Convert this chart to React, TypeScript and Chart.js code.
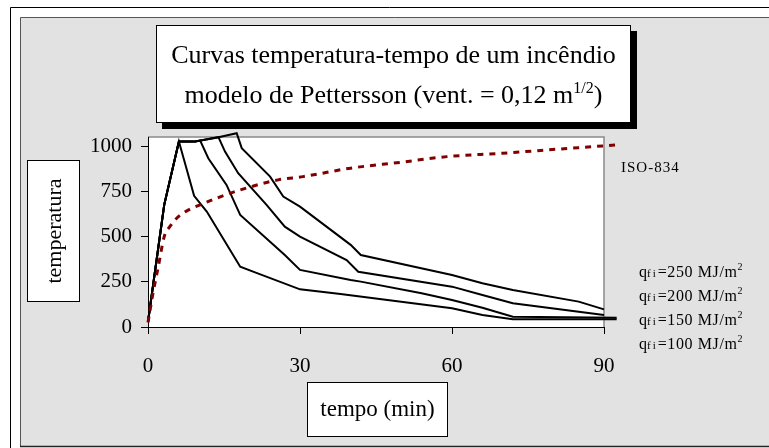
import React, { useEffect, useRef } from 'react';
import { Chart, registerables } from 'chart.js';

Chart.register(...registerables);

// ---- data ----
const xTicks = [0, 30, 60, 90];
const yTicks = [0, 250, 500, 750, 1000];

const isoTime = [0, 1, 2, 3.2, 4.3, 6, 8, 10.3, 14, 18.2, 25.7, 30.6, 40, 50, 59, 70, 80.7, 92.6];
const isoTemp = [25, 190, 330, 502, 557, 613, 650, 678, 720, 761, 817, 835, 882, 915, 946, 965, 987, 1011];

const q100Time = [0, 3.2, 6.1, 9.1, 11.6, 18.2, 21, 30, 38, 60, 66, 72, 92.5];
const q100Temp = [28, 678, 1030, 728, 641, 335, 305, 209, 183, 104, 67, 43, 43];

const q150Time = [0, 3.2, 6.1, 9.3, 10.3, 11.9, 15.5, 18.2, 27, 30, 40, 42, 54, 60, 66, 72, 92.5];
const q150Temp = [28, 678, 1030, 1030, 1035, 937, 789, 622, 400, 317, 261, 252, 187, 150, 107, 57, 52];

const q200Time = [0, 3.2, 6.1, 9.3, 13.9, 15.2, 17.8, 23.4, 27, 30, 39.2, 41.5, 60, 66, 72, 90, 92.5];
const q200Temp = [28, 678, 1030, 1030, 1054, 974, 854, 678, 557, 502, 372, 307, 224, 178, 132, 67, 67];

const q250Time = [0, 3.2, 6.1, 9.3, 13.9, 17.5, 18.5, 24.1, 26.7, 30, 40, 42, 60, 66, 72, 85, 90, 92.5];
const q250Temp = [28, 678, 1030, 1030, 1054, 1076, 993, 835, 724, 668, 456, 400, 289, 243, 206, 141, 98, 98];

const titleLine1 = 'Curvas temperatura-tempo de um incêndio';
const titleLine2 = 'modelo de Pettersson (vent. = 0,12 m';
const titleSup = '1/2';
const yTitle = 'temperatura';
const xTitle = 'tempo (min)';
const isoLabel = 'ISO-834';
const loadLabels = ['250', '200', '150', '100'];

const SERIF = "'Liberation Serif', 'Times New Roman', serif";

const zip = (t: number[], v: number[]) => t.map((x, i) => ({ x, y: v[i] }));

type Seg = { text: string; size: number; dy?: number; spacing?: number };

function drawRich(ctx: CanvasRenderingContext2D, x: number, y: number, segs: Seg[]) {
  let cx = x;
  for (const s of segs) {
    ctx.font = `${s.size}px ${SERIF}`;
    (ctx as any).letterSpacing = `${s.spacing ?? 0}px`;
    ctx.fillText(s.text, cx, y + (s.dy ?? 0));
    cx += ctx.measureText(s.text).width;
  }
  (ctx as any).letterSpacing = '0px';
}

function measureRich(ctx: CanvasRenderingContext2D, segs: Seg[]) {
  let w = 0;
  for (const s of segs) {
    ctx.font = `${s.size}px ${SERIF}`;
    (ctx as any).letterSpacing = `${s.spacing ?? 0}px`;
    w += ctx.measureText(s.text).width;
  }
  (ctx as any).letterSpacing = '0px';
  return w;
}

const decorPlugin = {
  id: 'decor',
  beforeDraw(chart: any) {
    const ctx: CanvasRenderingContext2D = chart.ctx;
    const W = chart.width;
    const H = chart.height;
    const ca = chart.chartArea;
    ctx.save();
    ctx.fillStyle = '#ffffff';
    ctx.fillRect(0, 0, W, H);
    // outer frame
    ctx.strokeStyle = '#000';
    ctx.lineWidth = 1;
    ctx.beginPath();
    ctx.moveTo(10.5, H);
    ctx.lineTo(10.5, 7.5);
    ctx.lineTo(W, 7.5);
    ctx.stroke();
    // gray panel
    ctx.fillStyle = '#e2e2e2';
    ctx.fillRect(20, 17, W - 20, 430);
    ctx.strokeStyle = '#555';
    ctx.beginPath();
    ctx.moveTo(20.5, 447);
    ctx.lineTo(20.5, 17.5);
    ctx.lineTo(W, 17.5);
    ctx.stroke();
    ctx.strokeStyle = '#222';
    ctx.lineWidth = 1.5;
    ctx.beginPath();
    ctx.moveTo(20, 446.5);
    ctx.lineTo(W, 446.5);
    ctx.stroke();
    // plot area
    ctx.fillStyle = '#ffffff';
    ctx.fillRect(ca.left, ca.top, ca.right - ca.left, ca.bottom - ca.top);
    ctx.strokeStyle = '#8a8a8a';
    ctx.lineWidth = 1.5;
    ctx.beginPath();
    ctx.moveTo(ca.left, ca.top);
    ctx.lineTo(ca.right, ca.top);
    ctx.lineTo(ca.right, ca.bottom);
    ctx.stroke();

    // title box with shadow
    ctx.fillStyle = '#000';
    ctx.fillRect(162, 31, 475, 98);
    ctx.fillStyle = '#fff';
    ctx.fillRect(156, 25, 475, 98);
    ctx.strokeStyle = '#000';
    ctx.lineWidth = 1;
    ctx.strokeRect(156.5, 25.5, 474, 97);
    ctx.fillStyle = '#000';
    ctx.textBaseline = 'alphabetic';
    ctx.textAlign = 'left';
    const tcx = 393.5;
    const seg1: Seg[] = [{ text: titleLine1, size: 26 }];
    drawRich(ctx, tcx - measureRich(ctx, seg1) / 2, 63, seg1);
    const seg2: Seg[] = [
      { text: titleLine2, size: 26 },
      { text: titleSup, size: 16, dy: -10 },
      { text: ')', size: 26 },
    ];
    drawRich(ctx, tcx - measureRich(ctx, seg2) / 2, 103, seg2);

    // y title box
    ctx.fillStyle = '#fff';
    ctx.fillRect(27, 160, 53, 142);
    ctx.strokeRect(27.5, 160.5, 52, 141);
    ctx.fillStyle = '#000';
    ctx.save();
    ctx.translate(55, 231);
    ctx.rotate(-Math.PI / 2);
    ctx.font = `22px ${SERIF}`;
    ctx.textAlign = 'center';
    ctx.textBaseline = 'middle';
    ctx.fillText(yTitle, 0, 0);
    ctx.restore();

    // x title box
    ctx.fillStyle = '#fff';
    ctx.fillRect(307, 382, 141, 55);
    ctx.strokeRect(307.5, 382.5, 140, 54);
    ctx.fillStyle = '#000';
    ctx.font = `23px ${SERIF}`;
    ctx.textAlign = 'center';
    ctx.textBaseline = 'middle';
    ctx.fillText(xTitle, 377.5, 410);

    // ISO label
    ctx.textAlign = 'left';
    ctx.textBaseline = 'alphabetic';
    drawRich(ctx, 621, 172, [{ text: isoLabel, size: 15, spacing: 1 }]);

    // load labels
    const baselines = [277, 301, 325, 349];
    loadLabels.forEach((v, i) => {
      drawRich(ctx, 639, baselines[i], [
        { text: 'q', size: 16 },
        { text: 'fi', size: 11, spacing: 2 },
        { text: `=${v} MJ/m`, size: 16, spacing: 0.6 },
        { text: '2', size: 10, dy: -7 },
      ]);
    });
    ctx.restore();
  },
};

export default function App() {
  const ref = useRef<HTMLCanvasElement | null>(null);
  useEffect(() => {
    if (!ref.current) return;
    const black = (label: string, t: number[], v: number[]) => ({
      label,
      data: zip(t, v),
      borderColor: '#000',
      borderWidth: 2,
      tension: 0,
      pointRadius: 0,
      fill: false,
      clip: false as any,
    });
    const chart = new Chart(ref.current, {
      type: 'line',
      data: {
        datasets: [
          {
            label: 'ISO-834',
            data: zip(isoTime, isoTemp),
            borderColor: '#800000',
            borderWidth: 3,
            borderDash: [6, 6],
            cubicInterpolationMode: 'monotone',
            pointRadius: 0,
            fill: false,
            clip: false as any,
          },
          black('qfi=100', q100Time, q100Temp),
          black('qfi=150', q150Time, q150Temp),
          black('qfi=200', q200Time, q200Temp),
          black('qfi=250', q250Time, q250Temp),
        ],
      },
      options: {
        responsive: false,
        animation: false,
        devicePixelRatio: 1,
        layout: { padding: { left: 0, top: 137, right: 165, bottom: 0 } },
        plugins: { legend: { display: false }, tooltip: { enabled: false }, title: { display: false } },
        scales: {
          x: {
            type: 'linear',
            min: 0,
            max: 90,
            afterFit: (s: any) => { s.height = 121; },
            afterBuildTicks: (s: any) => { s.ticks = xTicks.map((v) => ({ value: v })); },
            grid: { drawOnChartArea: false, drawTicks: true, tickLength: 7, color: '#000' },
            border: { display: true, color: '#000', width: 1 },
            ticks: {
              font: { family: SERIF, size: 21 }, color: '#000', padding: 20, maxRotation: 0, autoSkip: false,
              callback: (v: any) => String(v),
            },
          },
          y: {
            type: 'linear',
            min: 0,
            max: 1055,
            afterFit: (s: any) => { s.width = 148; },
            afterBuildTicks: (s: any) => { s.ticks = yTicks.map((v) => ({ value: v })); },
            grid: { drawOnChartArea: false, drawTicks: true, tickLength: 7, color: '#000' },
            border: { display: true, color: '#000', width: 1 },
            ticks: {
              font: { family: SERIF, size: 21 }, color: '#000', padding: 9, autoSkip: false,
              callback: (v: any) => String(v),
            },
          },
        },
      } as any,
      plugins: [decorPlugin],
    });
    return () => chart.destroy();
  }, []);
  return (
    <div style={{ position: 'fixed', left: 0, top: 0, width: 769, height: 448 }}>
      <canvas ref={ref} width={769} height={448} style={{ width: 769, height: 448, display: 'block' }} />
    </div>
  );
}
